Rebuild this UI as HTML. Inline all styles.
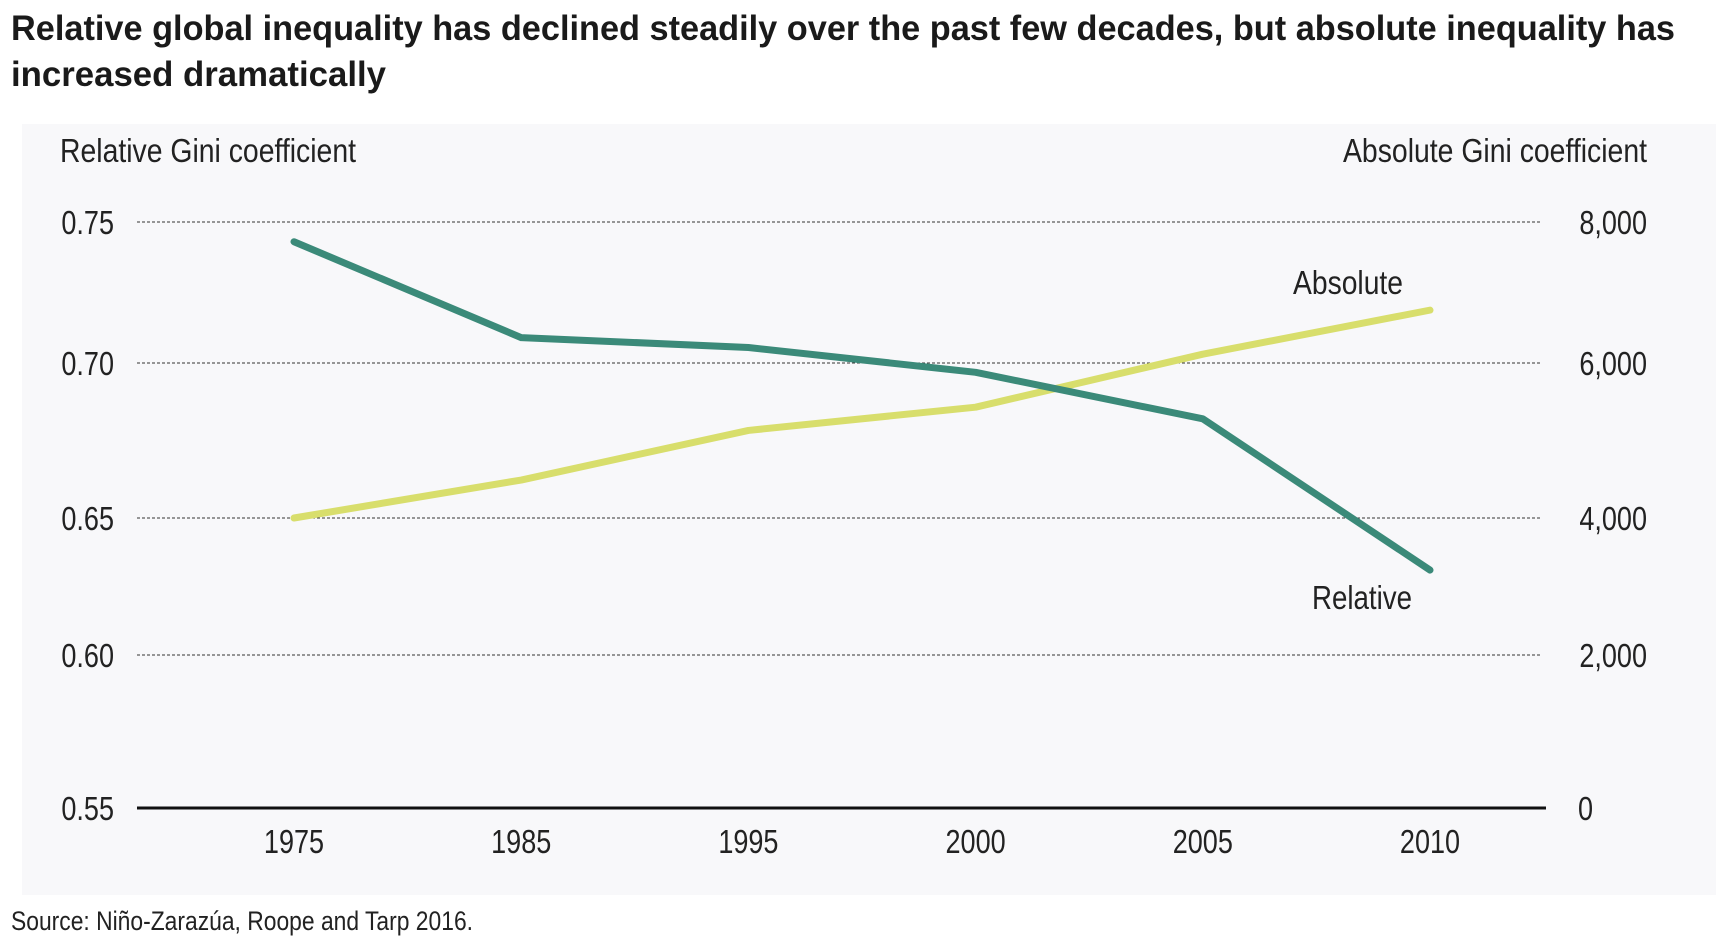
<!DOCTYPE html>
<html><head><meta charset="utf-8"><style>
body{margin:0;background:#fff;width:1728px;height:938px;overflow:hidden}
svg{display:block}
.n{font-family:"Liberation Sans Narrow","Liberation Sans",sans-serif;fill:#222}
</style></head><body>
<svg width="1728" height="938">
<text x="11" y="40" textLength="1664" lengthAdjust="spacingAndGlyphs" style="font-family:'Liberation Sans',sans-serif;font-weight:bold;font-size:35px;fill:#1a1a1a">Relative global inequality has declined steadily over the past few decades, but absolute inequality has</text>
<text x="11" y="86" textLength="375" lengthAdjust="spacingAndGlyphs" style="font-family:'Liberation Sans',sans-serif;font-weight:bold;font-size:35px;fill:#1a1a1a">increased dramatically</text>
<rect x="22" y="124" width="1694" height="771" fill="#f8f8fa"/>
<text class="n" x="60" y="162" font-size="33" textLength="296" lengthAdjust="spacingAndGlyphs">Relative Gini coefficient</text>
<text class="n" x="1343" y="162" font-size="33" textLength="304" lengthAdjust="spacingAndGlyphs">Absolute Gini coefficient</text>
<g id="grid"></g><g id="lines"></g>
<text class="n" x="1293" y="294" font-size="33" textLength="110" lengthAdjust="spacingAndGlyphs">Absolute</text>
<text class="n" x="1312" y="609" font-size="33" textLength="100" lengthAdjust="spacingAndGlyphs">Relative</text>
<text class="n" x="11" y="930" font-size="27" textLength="462" lengthAdjust="spacingAndGlyphs">Source: Niño-Zarazúa, Roope and Tarp 2016.</text>
</svg>
<script>
const years=["1975","1985","1995","2000","2005","2010"];
const relative=[0.743,0.709,0.7055,0.697,0.682,0.631];
const absolute=[4000,4490,5130,5430,6125,6750];
const leftTicks=[0.55,0.60,0.65,0.70,0.75];
const rightTicks=[0,2000,4000,6000,8000];
const leftTickLabels=["0.55","0.60","0.65","0.70","0.75"];
const rightTickLabels=["0","2,000","4,000","6,000","8,000"];
const tickPx=[808,655,518,363,222];
function interp(v,ticks){for(let i=0;i<ticks.length-1;i++){if(v<=ticks[i+1]||i==ticks.length-2){const t=(v-ticks[i])/(ticks[i+1]-ticks[i]);return tickPx[i]+t*(tickPx[i+1]-tickPx[i]);}}}
const yL=v=>interp(v,leftTicks), yR=v=>interp(v,rightTicks);
const x=i=>294+i*227.2;
const NS="http://www.w3.org/2000/svg";
function mk(tag,attrs,parent,txt){const e=document.createElementNS(NS,tag);for(const k in attrs)e.setAttribute(k,attrs[k]);if(txt!==undefined)e.textContent=txt;document.getElementById(parent).appendChild(e);return e;}
function tx(px,py,anchor,txt){return mk('text',{transform:'translate('+px+','+py+') scale(0.82,1)','font-size':33,'text-anchor':anchor,class:'n'},'grid',txt);}
leftTicks.forEach((t,i)=>{
  const y=yL(t);
  if(i>0){const g=mk('line',{x1:137,x2:1540,y1:y,y2:y,stroke:'#333','stroke-width':1,'stroke-dasharray':'3,2'},'grid');
  
  }
  const l=tx(114,y+12,'end',leftTickLabels[i]);
  
  
});
rightTicks.forEach((t,i)=>{
  const y=yR(t);
  const l=tx(i==0?1578:1647,y+12,i==0?'start':'end',rightTickLabels[i]);
  
  
});
const ax=mk('line',{x1:137,x2:1546,y1:808,y2:808,stroke:'#111','stroke-width':3},'grid');


years.forEach((yr,i)=>{
  const l=tx(x(i),853,'middle',yr);
  
  
});
const pa=mk('polyline',{points:absolute.map((v,i)=>x(i)+','+yR(v)).join(' '),fill:'none',stroke:'#d8de6c','stroke-width':7,'stroke-linejoin':'round','stroke-linecap':'round'},'lines');


const pr=mk('polyline',{points:relative.map((v,i)=>x(i)+','+yL(v)).join(' '),fill:'none',stroke:'#3b8a79','stroke-width':7,'stroke-linejoin':'round','stroke-linecap':'round'},'lines');


</script>
</body></html>
